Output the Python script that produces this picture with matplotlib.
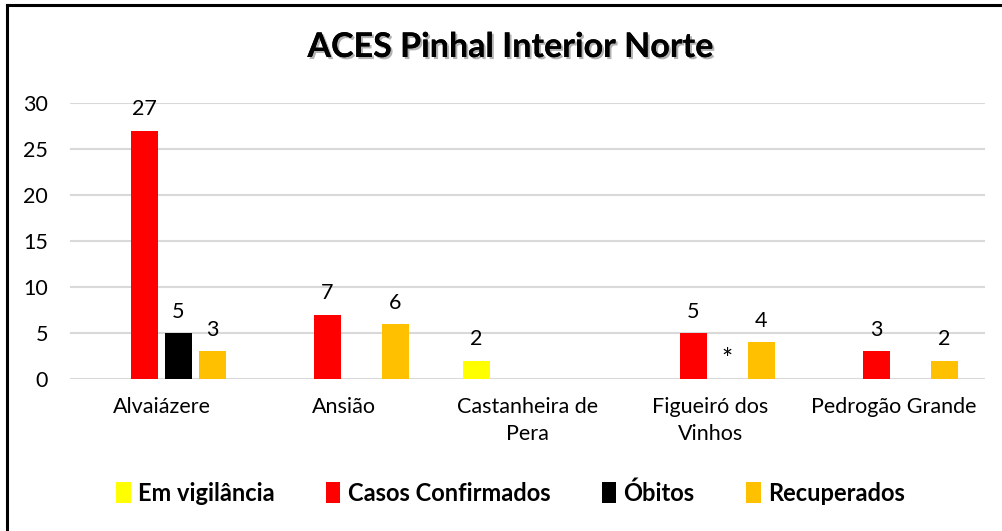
import matplotlib
matplotlib.use("Agg")
import matplotlib.pyplot as plt
import matplotlib.patheffects as pe
from matplotlib.patches import Patch
import numpy as np

plt.rcParams['font.family'] = ['Lato', 'DejaVu Sans']

categories = ["Alvaiázere", "Ansião", "Castanheira de\nPera", "Figueiró dos\nVinhos", "Pedrogão Grande"]
series_names = ["Em vigilância", "Casos Confirmados", "Óbitos", "Recuperados"]
em_vigilancia = [np.nan, np.nan, 2, np.nan, np.nan]
casos_confirmados = [27, 7, np.nan, 5, 3]
obitos = [5, np.nan, np.nan, 0, np.nan]
recuperados = [3, 6, np.nan, 4, 2]
obitos_labels = ["5", "", "", "*", ""]
colors = ["#FFFF00", "#FF0000", "#000000", "#FFC000"]
title = "ACES Pinhal Interior Norte"

series = [em_vigilancia, casos_confirmados, obitos, recuperados]

fig = plt.figure(figsize=(10.03, 5.31), dpi=100)
ax = fig.add_axes([0.0698, 1 - 379 / 531, 0.912, (379 - 103) / 531])

x = np.arange(len(categories))
slot = 0.186
width = 0.148
for i, (vals, col) in enumerate(zip(series, colors)):
    offs = (i - 1.5) * slot
    v = np.array(vals, dtype=float)
    ax.bar(x + offs, np.nan_to_num(v), width=width, color=col, zorder=3)
    for j, val in enumerate(v):
        if np.isnan(val):
            continue
        if i == 2:
            lab = obitos_labels[j]
        else:
            lab = f"{int(val)}"
        if not lab:
            continue
        if lab == "*":
            ax.annotate(lab, (x[j] + offs, val), xytext=(0, 4), textcoords="offset points",
                        ha="center", va="bottom", fontsize=19, color="#000000")
        else:
            ax.annotate(lab, (x[j] + offs, val), xytext=(0, 8), textcoords="offset points",
                        ha="center", va="bottom", fontsize=15.5, color="#000000")

ax.set_xlim(-0.5, len(categories) - 0.5)
ax.set_ylim(0, 30)
ax.set_yticks(range(0, 31, 5))
ax.grid(axis="y", color="#D9D9D9", linewidth=1.5, zorder=0)
ax.set_axisbelow(True)
for s in ax.spines.values():
    s.set_visible(False)
ax.tick_params(axis="both", length=0, labelsize=15.5, colors="#000000")
ax.tick_params(axis="y", pad=16)
ax.tick_params(axis="x", pad=13)
ax.set_xticks(x)
ax.set_xticklabels(categories, linespacing=1.45)

fig.text(0.509, 1 - 47 / 531, title, ha="center", va="center", fontsize=24.5, fontweight="bold",
         path_effects=[pe.withSimplePatchShadow(offset=(1.5, -1.5), shadow_rgbFace="#808080", alpha=0.6),
                       pe.Normal()])

handles = [Patch(facecolor=c, edgecolor="none") for c in colors]
fig.legend(handles, series_names, loc="center", bbox_to_anchor=(0.509, 1 - 493 / 531), ncol=4,
           frameon=False, prop={"weight": "bold", "size": 17}, handlelength=0.6, handleheight=0.95,
           handletextpad=0.3, columnspacing=2.2)

# chart border (top and left visible)
fig.add_artist(plt.Line2D([7 / 1003, 1.01], [1 - 5 / 531, 1 - 5 / 531], color="black", linewidth=2.2,
                          transform=fig.transFigure))
fig.add_artist(plt.Line2D([7 / 1003, 7 / 1003], [1 - 5 / 531, -0.01], color="black", linewidth=2.2,
                          transform=fig.transFigure))

fig.savefig("out.png", dpi=100)
